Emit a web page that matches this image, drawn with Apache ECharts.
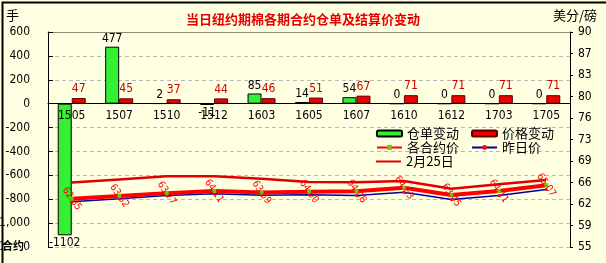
<!DOCTYPE html>
<html><head><meta charset="utf-8">
<script src="https://cdn.jsdelivr.net/npm/echarts@6/dist/echarts.min.js"></script>
<style>html,body{margin:0;padding:0;background:#FFFFE1;} #c{width:606px;height:263px;}</style>
</head><body><div id="c"></div>
<script>
// ---- data ----
const categories = ['1505','1507','1510','1512','1603','1605','1607','1610','1612','1703','1705'];
const warrantChange = [-1102, 477, 2, -11, 85, 14, 54, 0, 0, 0, 0];          // 仓单变动 (手)
const priceChange = [47, 45, 37, 44, 46, 51, 67, 71, 71, 71, 71];             // 价格变动
const contractPrice = [62.85, 63.32, 63.77, 64.11, 63.89, 64.00, 64.06, 64.63, 63.45, 64.11, 65.07]; // 各合约价
const prevPrice = [62.38, 62.87, 63.40, 63.67, 63.43, 63.49, 63.39, 63.92, 62.74, 63.40, 64.36];     // 昨日价
const feb25Price = [65.50, 66.00, 66.50, 66.50, 66.10, 65.60, 65.55, 65.75, 64.50, 65.20, 65.90];    // 2月25日
const leftMin = -1200, leftMax = 600, leftStep = 200;
const rightMin = 55, rightMax = 90, rightStep = 3.5;

const NUM_FONT = "'Liberation Sans Narrow','DejaVu Sans Condensed','Liberation Sans',sans-serif";
const CJK_FONT = "'Noto Sans CJK SC',sans-serif";
const BG = '#FFFFE1';
const W = 606, H = 263;
const G = {left: 48, right: 36, top: 32, bottom: 16};
const plotH = H - G.top - G.bottom;
// move the category axis from the grid bottom up to the value 0 of the left axis
const zeroOffset = -plotH * (0 - leftMin) / (leftMax - leftMin);

const chart = echarts.init(document.getElementById('c'), null, {renderer:'canvas', width: W, height: H});
const legendBase = {
  left: 376, itemWidth: 25, itemHeight: 6, itemGap: 12, padding: 0,
  textStyle: {fontSize: 13, color: '#000', fontFamily: CJK_FONT}
};
chart.setOption({
  animation: false,
  backgroundColor: BG,
  title: {
    text: '当日纽约期棉各期合约仓单及结算价变动', left: 'center', top: 8,
    textStyle: {color: '#E80000', fontSize: 13, fontWeight: 'bold', fontFamily: CJK_FONT}
  },
  legend: [
    Object.assign({}, legendBase, {top: 127, data: ['仓单变动', '价格变动']}),
    Object.assign({}, legendBase, {top: 141, data: ['各合约价', '昨日价']}),
    Object.assign({}, legendBase, {top: 155, itemHeight: 2, data: [{name: '2月25日', icon: 'rect'}]})
  ],
  grid: Object.assign({outerBoundsMode: 'none', containLabel: false}, G),
  xAxis: [
    {
      type: 'category', data: categories, position: 'bottom', offset: zeroOffset, z: 10,
      axisLine: {onZero: false, lineStyle: {color: '#000', width: 1}},
      axisTick: {inside: true, length: 4, lineStyle: {color: '#000'}},
      axisLabel: {color: '#000', fontSize: 12, margin: 6, fontFamily: NUM_FONT},
      splitLine: {show: false}
    },
    {
      type: 'category', position: 'top', data: categories,
      axisLine: {show: true, onZero: false, lineStyle: {color: '#8C8C70', width: 1}},
      axisTick: {show: false}, axisLabel: {show: false}, splitLine: {show: false}
    }
  ],
  yAxis: [
    {
      type: 'value', position: 'left', min: leftMin, max: leftMax, interval: leftStep,
      axisLine: {show: true, onZero: false, lineStyle: {color: '#000'}},
      axisTick: {show: true, inside: true, length: 5, lineStyle: {color: '#000'}},
      axisLabel: {color: '#000', fontSize: 12, margin: 18, fontFamily: NUM_FONT},
      splitLine: {show: true, lineStyle: {type: [4, 3], color: '#B8B8B8'}}
    },
    {
      type: 'value', position: 'right', min: rightMin, max: rightMax, interval: rightStep,
      axisLine: {show: true, onZero: false, lineStyle: {color: '#000'}},
      axisTick: {show: true, length: 3, lineStyle: {color: '#000'}},
      axisLabel: {color: '#000', fontSize: 12, margin: 8, fontFamily: NUM_FONT,
                  formatter: v => String(Math.round(v))},
      splitLine: {show: false}
    }
  ],
  series: [
    {
      name: '仓单变动', type: 'bar', yAxisIndex: 0, barWidth: 14, barGap: '0%',
      data: warrantChange.map(v => ({value: v, label: {position: v < 0 ? 'bottom' : 'top'}})),
      itemStyle: {color: '#33F033', borderColor: '#000', borderWidth: 1},
      label: {show: true, color: '#000', fontSize: 12, distance: 2, fontFamily: NUM_FONT},
      z: 2
    },
    {
      name: '价格变动', type: 'bar', yAxisIndex: 0, barWidth: 14, barGap: '0%',
      data: priceChange,
      itemStyle: {color: '#EE0000', borderColor: '#5A0000', borderWidth: 1},
      label: {show: true, position: 'top', color: '#CC0000', fontSize: 12, distance: 3, fontFamily: NUM_FONT},
      z: 2
    },
    {
      name: '昨日价', type: 'line', yAxisIndex: 1, data: prevPrice,
      symbol: 'circle', symbolSize: 3, showAllSymbol: true,
      lineStyle: {color: '#0000A0', width: 1.5},
      itemStyle: {color: '#FF0000', borderColor: '#FF0000', borderWidth: 0},
      z: 3
    },
    {
      name: '2月25日', type: 'line', yAxisIndex: 1, data: feb25Price,
      symbol: 'none', lineStyle: {color: '#E00000', width: 2.5},
      itemStyle: {color: '#E00000'},
      z: 3
    },
    {
      name: '各合约价', type: 'line', yAxisIndex: 1, data: contractPrice,
      symbol: 'rect', symbolSize: 4, showAllSymbol: true,
      lineStyle: {color: '#FF0000', width: 4},
      itemStyle: {color: '#66CC00', borderWidth: 0},
      label: {show: true, position: 'inside', rotate: -55, color: '#FF0000', fontSize: 10,
              fontFamily: NUM_FONT, formatter: p => Number(p.value).toFixed(2)},
      z: 4
    }
  ],
  graphic: [
    {type: 'text', left: 6, top: 9, style: {text: '手', fontSize: 13, fill: '#000', fontFamily: CJK_FONT}},
    {type: 'text', right: 9, top: 9, style: {text: '美分/磅', fontSize: 13, fill: '#000', fontFamily: CJK_FONT}},
    {type: 'text', left: 2, top: 240, z: 100,
     style: {text: '合约', fontSize: 11, fontWeight: 'bold', fill: '#000', fontFamily: CJK_FONT, backgroundColor: BG}},
    {type: 'rect', left: 0, top: 0, z: 100, silent: true,
     shape: {x: 0, y: 0, width: 605, height: 262},
     style: {fill: 'none', stroke: '#000', lineWidth: 2}}
  ]
});
</script>
</body></html>
